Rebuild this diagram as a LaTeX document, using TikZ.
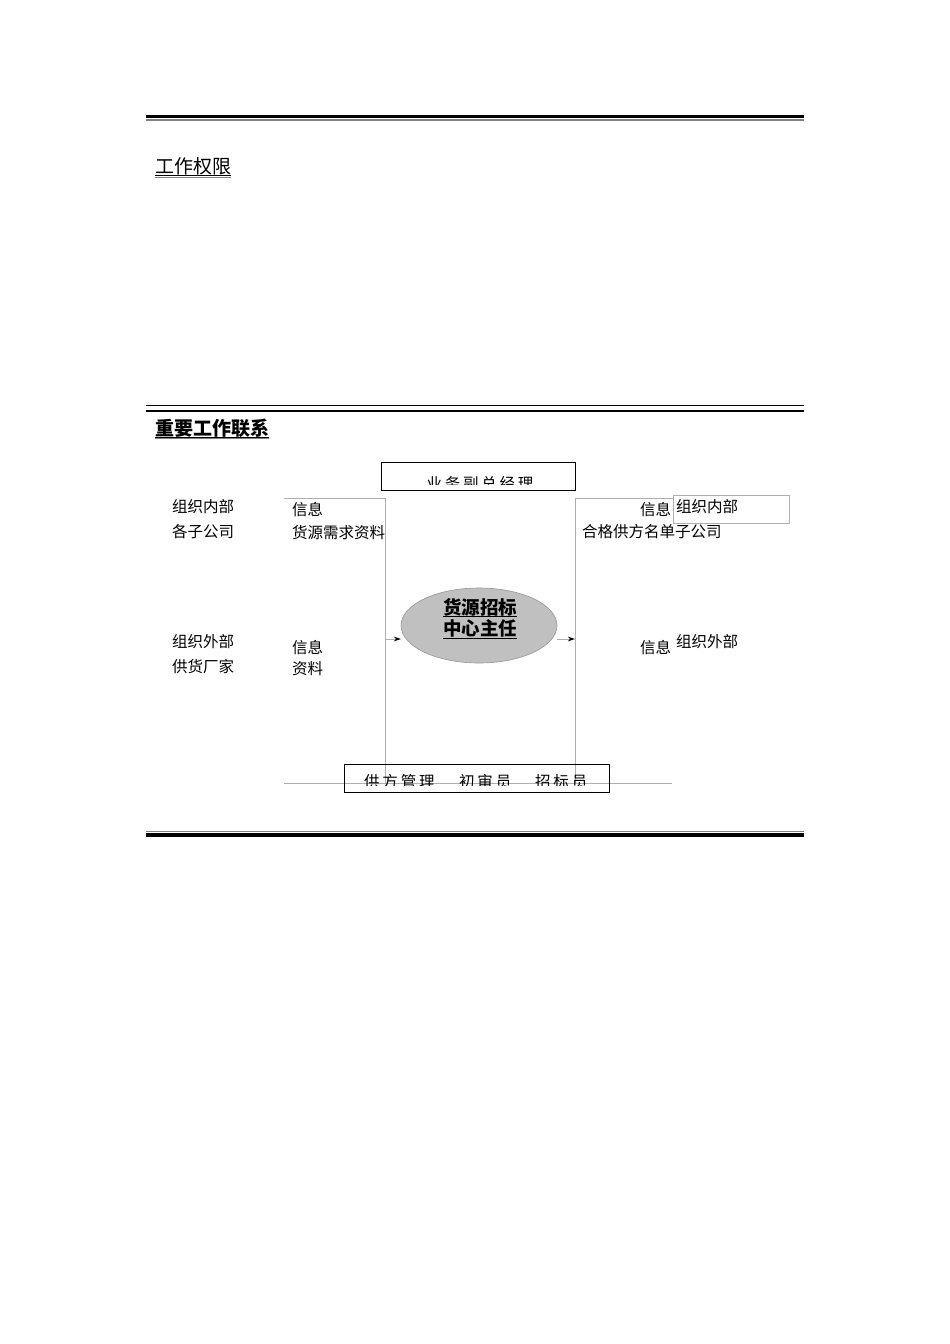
\documentclass[tikz,border=0pt]{standalone}
\usepackage{fontspec}
\setmainfont{Noto Sans CJK SC}
\newfontfamily\spacedcjk[LetterSpace=18]{Noto Sans CJK SC}
\usetikzlibrary{arrows.meta,shapes.geometric}
\definecolor{linegray}{RGB}{175,175,175}
\definecolor{rulegray}{RGB}{128,128,128}
\definecolor{ellfill}{RGB}{192,192,192}
\definecolor{ellline}{RGB}{150,150,150}
\begin{document}
\begin{tikzpicture}[x=1pt,y=-1pt,
  txt/.style={anchor=west,inner sep=0pt,font=\fontsize{15.5}{15.5}\selectfont},
  headtxt/.style={anchor=west,inner sep=0pt,font=\fontsize{19}{19}\selectfont},
  elltxt/.style={inner sep=0pt,font=\fontsize{18.5}{18.5}\selectfont\bfseries},
  boxtxt/.style={inner sep=0pt,font=\fontsize{15.5}{15.5}\spacedcjk},
  framebox/.style={draw=black,line width=1.1pt,inner sep=0pt,anchor=north west},
  thin/.style={draw=linegray,line width=0.8pt},
  arr/.style={draw=linegray,line width=0.8pt,-{Stealth[length=7pt,width=4.5pt,inset=2pt,color=black]}}
]
\useasboundingbox (0,0) rectangle (950,1344);

% rules
\draw[line width=3.5pt] (146,116.5) -- (804,116.5);
\draw[rulegray,line width=1.3pt] (146,120) -- (804,120);
\draw[line width=1.5pt] (146,405.7) -- (804,405.7);
\draw[line width=2.5pt] (146,410.8) -- (804,410.8);
\draw[line width=4pt] (146,835.2) -- (804,835.2);
\draw[rulegray,line width=1.3pt] (146,831.8) -- (804,831.8);

% headings
\node[headtxt] (h1) at (155,166) {工作权限};
\draw[line width=1pt] (155,175.5) -- (231,175.5);
\draw[rulegray,line width=1.3pt] (155,177.3) -- (231,177.3);
\node[headtxt,font=\fontsize{19}{19}\selectfont\bfseries] (h2) at (155,428) {重要工作联系};
\draw[line width=1pt] (155,437) -- (269,437);
\draw[rulegray,line width=1.3pt] (155,438.8) -- (269,438.8);

% frame lines
\coordinate (a1) at (284,498);
\coordinate (a2) at (385,498);
\coordinate (a3) at (385,783);
\coordinate (b1) at (673,498);
\coordinate (b2) at (575,498);
\coordinate (b3) at (575,783);
\coordinate (c1) at (284,783);
\coordinate (c2) at (672,783);
\draw[thin] (a1) -- (a2) -- (a3);
\draw[thin] (b1) -- (b2) -- (b3);
\draw[thin] (c1) -- (c2);

% right gray box
\node[draw=linegray,line width=0.8pt,inner sep=0pt,anchor=north west,minimum width=116pt,minimum height=28pt] (rb) at (673,495) {};

% top box
\node[framebox,minimum width=194pt,minimum height=28pt] (tb) at (381,462) {};
\begin{scope}
\clip (381,462) rectangle (575,484.5);
\node[boxtxt] (tbt) at (480,483.5) {业务副总经理};
\end{scope}

% bottom box
\node[framebox,minimum width=265pt,minimum height=28pt] (bb) at (344,764) {};
\begin{scope}
\clip (344,764) rectangle (609,785.5);
\node[boxtxt,anchor=west] (bt1) at (364,782) {供方管理};
\node[boxtxt,anchor=west] (bt2) at (459,782) {初审员};
\node[boxtxt,anchor=west] (bt3) at (535,782) {招标员};
\end{scope}

% ellipse
\node[ellipse,draw=ellline,line width=0.6pt,fill=ellfill,minimum width=156pt,minimum height=75pt,inner sep=0pt] (e) at (479,625.5) {};
\node[elltxt] (e1) at (480,607) {货源招标};
\node[elltxt] (e2) at (480,628.5) {中心主任};
\draw[line width=1pt] (443,616.5) -- (517,616.5);
\draw[line width=1pt] (443,638.5) -- (517,638.5);

% arrows
\coordinate (la) at (385,639);
\coordinate (lb) at (401,639);
\coordinate (ra) at (557,639);
\coordinate (rb2) at (575,639);
\draw[arr] (la) -- (lb);
\draw[arr] (ra) -- (rb2);

% left texts
\node[txt] (l1) at (172,507) {组织内部};
\node[txt] (l2) at (172,532) {各子公司};
\node[txt] (l3) at (172,642) {组织外部};
\node[txt] (l4) at (172,667) {供货厂家};
\node[txt] (m1) at (292,510) {信息};
\node[txt] (m2) at (292,533) {货源需求资料};
\node[txt] (m3) at (292,648) {信息};
\node[txt] (m4) at (292,669) {资料};

% right texts
\node[txt] (r1) at (640,510) {信息};
\node[txt] (r2) at (676,507) {组织内部};
\node[txt] (r3) at (582,532) {合格供方名单子公司};
\node[txt] (r4) at (640,648) {信息};
\node[txt] (r5) at (676,642) {组织外部};
\end{tikzpicture}
\end{document}
